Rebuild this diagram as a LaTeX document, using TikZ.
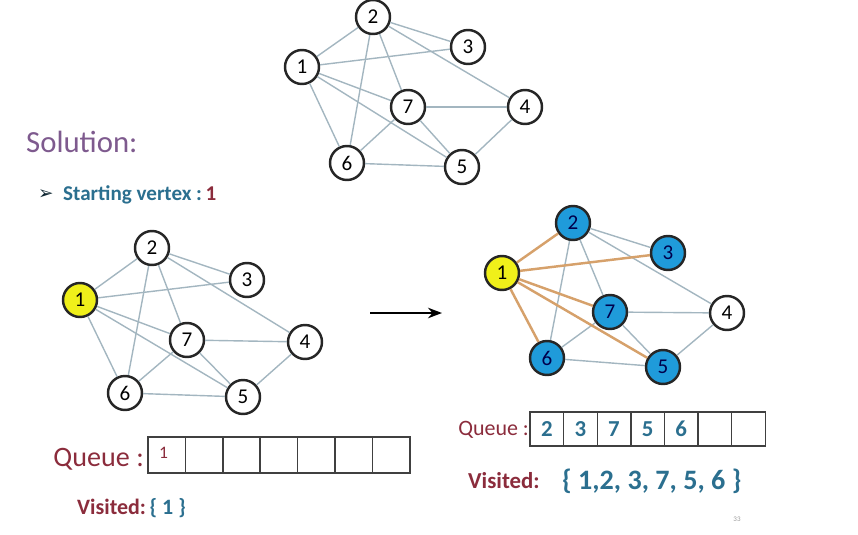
\documentclass[tikz,border=0pt]{standalone}
\usepackage{fontspec}
\setmainfont{Carlito}
\newfontfamily\symfont{DejaVu Sans}
\usetikzlibrary{positioning, arrows.meta, calc}
\definecolor{edgegray}{HTML}{A3B6C0}
\definecolor{treeorange}{HTML}{D6A16B}
\definecolor{bfsblue}{HTML}{1F9BDA}
\definecolor{bfsyellow}{HTML}{F0F01A}
\definecolor{titlepurple}{HTML}{7E5A8E}
\definecolor{tealtext}{HTML}{2B6F8F}
\definecolor{maroon}{HTML}{8B2C3C}

\begin{document}
\begin{tikzpicture}[
  x=0.02cm, y=-0.02cm,
  vertex/.style={circle, draw=black!85, line width=1.4pt, minimum size=0.68cm, inner sep=0pt, fill=white, font=\fontsize{12}{14}\selectfont},
  seen/.style={fill=bfsblue, text=black!70!blue},
  start/.style={fill=bfsyellow},
  edge/.style={draw=edgegray, line width=0.8pt},
  tree/.style={draw=treeorange, line width=1.4pt},
  cell/.style={draw=black!75, line width=0.8pt, inner sep=0pt, outer sep=0pt}
]
  \useasboundingbox (0,0) rectangle (858,534);

  % graph at the top
  \node[vertex] (a2) at (373,17) {2};
  \node[vertex] (a3) at (468,47) {3};
  \node[vertex] (a1) at (302,67) {1};
  \node[vertex] (a7) at (408,107) {7};
  \node[vertex] (a4) at (525,107) {4};
  \node[vertex] (a6) at (347,163) {6};
  \node[vertex] (a5) at (462,167) {5};

  % starting graph
  \node[vertex] (b2) at (152,248) {2};
  \node[vertex] (b3) at (247,280) {3};
  \node[vertex, start] (b1) at (80,300) {1};
  \node[vertex] (b7) at (187,340) {7};
  \node[vertex] (b4) at (305,342) {4};
  \node[vertex] (b6) at (125,393) {6};
  \node[vertex] (b5) at (243,397) {5};

  % after the first step
  \node[vertex, seen] (c2) at (573,223) {2};
  \node[vertex, seen] (c3) at (668,253) {3};
  \node[vertex, start] (c1) at (502,273) {1};
  \node[vertex, seen] (c7) at (610,312) {7};
  \node[vertex] (c4) at (727,313) {4};
  \node[vertex, seen] (c6) at (547,358) {6};
  \node[vertex, seen] (c5) at (663,367) {5};

  \foreach \g in {a,b}
    \foreach \u/\v in {1/2,1/3,1/7,1/5,1/6,2/3,2/6,2/7,2/4,7/4,7/6,7/5,6/5,5/4}
      \draw[edge] (\g\u) -- (\g\v);
  \foreach \u/\v in {2/3,2/6,2/7,2/4,7/4,7/6,7/5,6/5,5/4}
    \draw[edge] (c\u) -- (c\v);
  \foreach \v in {2,3,7,5,6}
    \draw[tree] (c1) -- (c\v);

  \coordinate (arrowtail) at (370,313);
  \coordinate (arrowtip) at (442,313);
  \draw[-{Stealth[length=8pt,width=6pt]}, line width=1.1pt] (arrowtail) -- (arrowtip);

  \node[anchor=west, text=titlepurple, font=\fontsize{17.5}{20}\selectfont] (solution) at (20,142) {Solution:};
  \node[anchor=west, text=black!65!tealtext, font=\symfont\fontsize{10.5}{12}\selectfont] (bullet) at (32,195) {➢};
  \node[anchor=west, text=tealtext, font=\bfseries\fontsize{12}{14}\selectfont] (startv) at (57,195) {Starting vertex :\,\textcolor{maroon}{1}};

  % queues
  \foreach \i in {1,...,7}
    \node[cell, minimum width=0.748cm, minimum height=0.72cm] (q\i) at ({129.3+37.4*\i},455) {};
  \node[text=maroon, font=\fontsize{10}{12}\selectfont] at ($(q1)+(-3,-2)$) {1};
  \node[anchor=east, text=maroon, font=\fontsize{16}{19}\selectfont] (queueleft) at ($(q1.west)+(2,4)$) {Queue :};
  \node[anchor=west, font=\bfseries\fontsize{12.5}{14}\selectfont] (visleft) at (71,508) {\textcolor{maroon}{Visited:}\,\textcolor{tealtext}{\{ 1 \}}};

  \foreach \i/\t in {1/2,2/3,3/7,4/5,5/6,6/,7/}
    \node[cell, minimum width=0.672cm, minimum height=0.68cm, text=tealtext, font=\bfseries\fontsize{13}{15}\selectfont] (r\i) at ({513.2+33.6*\i},429) {\t};
  \node[anchor=east, text=maroon, font=\fontsize{12.5}{15}\selectfont] (queueright) at ($(r1.west)+(5,1)$) {Queue :};
  \node[anchor=west, text=maroon, font=\bfseries\fontsize{13}{15}\selectfont] (visright) at (462,481) {Visited:};
  \node[anchor=west, text=tealtext, font=\bfseries\fontsize{16}{18}\selectfont] (visset) at (556,481) {\{ 1,2, 3, 7, 5, 6 \}};
  \node[text=black!40, font=\fontsize{4}{5}\selectfont] (pagenum) at (737,519) {33};
\end{tikzpicture}
\end{document}
